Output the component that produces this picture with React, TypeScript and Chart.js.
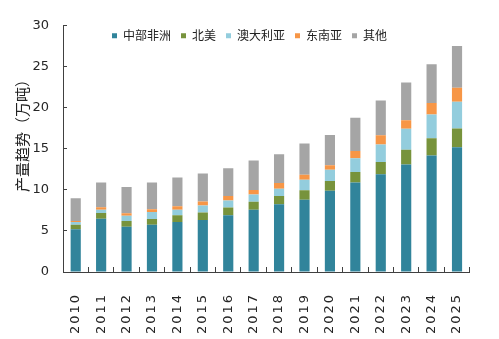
import React, { useEffect, useRef } from "react";
import { Chart, registerables, CategoryScale } from "chart.js";

const years = ["2010","2011","2012","2013","2014","2015","2016","2017","2018","2019","2020","2021","2022","2023","2024","2025"];
const centralAfrica = [5.2, 6.5, 5.5, 5.75, 6.1, 6.35, 6.9, 7.6, 8.25, 8.8, 9.9, 10.9, 11.9, 13.1, 14.2, 15.2];
const northAmerica = [0.55, 0.7, 0.7, 0.7, 0.8, 0.9, 0.95, 0.95, 1.0, 1.15, 1.2, 1.3, 1.5, 1.8, 2.1, 2.3];
const australia = [0.35, 0.4, 0.65, 0.85, 0.7, 0.85, 0.85, 0.9, 0.9, 1.3, 1.35, 1.65, 2.15, 2.55, 2.9, 3.25];
const southeastAsia = [0.1, 0.3, 0.3, 0.35, 0.4, 0.5, 0.55, 0.55, 0.7, 0.6, 0.55, 0.9, 1.1, 1.05, 1.4, 1.7];
const others = [2.8, 3.0, 3.2, 3.25, 3.5, 3.4, 3.4, 3.6, 3.5, 3.8, 3.7, 4.05, 4.25, 4.6, 4.7, 5.1];
const seriesNames = ["中部非洲", "北美", "澳大利亚", "东南亚", "其他"];
const yTitle = "产量趋势（万吨）";

class SpacedCategoryScale extends CategoryScale {
  static id = "spacedCategory";
  static defaults = CategoryScale.defaults;
  drawLabels(chartArea: any) {
    const ctx: any = this.ctx;
    ctx.save();
    ctx.letterSpacing = "2px";
    super.drawLabels(chartArea);
    ctx.restore();
  }
}

Chart.register(...registerables, SpacedCategoryScale as any);

const legendInside = {
  id: "legendInside",
  beforeLayout(chart: any) {
    const lg = chart.legend;
    if (lg && !lg.__patched) {
      const origFit = lg.fit;
      lg.fit = function () {
        origFit.call(this);
        this.height = 0;
      };
      lg.__patched = true;
    }
  },
  afterLayout(chart: any) {
    const lg = chart.legend;
    if (lg) {
      lg.top = chart.chartArea.top - 6;
      lg.bottom = lg.top + 60;
      lg.left = 102;
      lg.right = 499;
    }
  },
};

const yTitlePlugin = {
  id: "yTitlePlugin",
  afterDraw(chart: any) {
    const ctx = chart.ctx;
    ctx.save();
    ctx.translate(22, 132);
    ctx.rotate(-Math.PI / 2);
    ctx.font = '15px "Noto Sans CJK SC"';
    ctx.fillStyle = "#222";
    ctx.textAlign = "center";
    ctx.textBaseline = "middle";
    ctx.fillText(yTitle, 0, 0);
    ctx.restore();
  },
};

export default function App() {
  const ref = useRef<HTMLCanvasElement | null>(null);
  useEffect(() => {
    if (!ref.current) return;
    const colors = ["#31849B", "#77933C", "#93CDDD", "#F79646", "#A5A5A5"];
    const values = [centralAfrica, northAmerica, australia, southeastAsia, others];
    const chart = new Chart(ref.current, {
      type: "bar",
      data: {
        labels: years,
        datasets: values.map((v, i) => ({
          label: seriesNames[i],
          data: v,
          backgroundColor: colors[i],
          borderWidth: 0,
          barPercentage: 0.4,
          categoryPercentage: 1.0,
        })),
      },
      options: {
        animation: false,
        responsive: false,
        layout: { padding: { top: 12, right: 12, left: 0, bottom: 0 } },
        plugins: {
          legend: {
            position: "top",
            align: "start",
            labels: {
              boxWidth: 5,
              boxHeight: 5,
              padding: 10,
              color: "#222",
              font: { family: '"Noto Sans CJK SC"', size: 12 },
            },
          },
          tooltip: { enabled: false },
        },
        scales: {
          x: {
            type: "spacedCategory" as any,
            stacked: true,
            offset: true,
            grid: { offset: true, drawOnChartArea: false, tickLength: -5, color: "#404040" },
            border: { color: "#404040", width: 1 },
            ticks: {
              maxRotation: 90,
              minRotation: 90,
              padding: 26,
              color: "#262626",
              font: { family: '"DejaVu Sans"', size: 13 },
            },
            afterFit: (s: any) => { s.height = 67; },
          },
          y: {
            stacked: true,
            min: 0,
            max: 30,
            ticks: {
              stepSize: 5,
              padding: 18,
              color: "#262626",
              font: { family: '"DejaVu Sans"', size: 13 },
            },
            grid: { drawOnChartArea: false, tickLength: -4, color: "#404040" },
            border: { color: "#404040", width: 1 },
            afterFit: (s: any) => { s.width = 63; },
          },
        },
      },
      plugins: [legendInside, yTitlePlugin],
    });
    chart.update();
    return () => chart.destroy();
  }, []);
  return (
    <div style={{ position: "fixed", left: 0, top: 0, width: 499, height: 339, background: "#fff" }}>
      <canvas ref={ref} width={499} height={339} />
    </div>
  );
}
